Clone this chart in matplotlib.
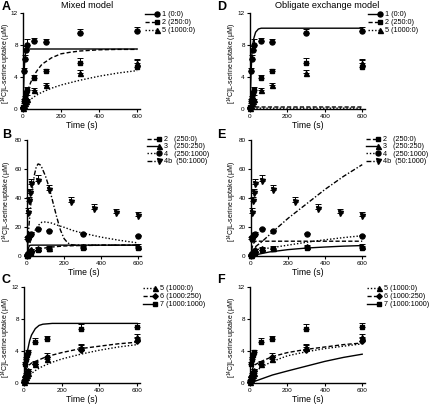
import numpy as np
import matplotlib
matplotlib.use("Agg")
import matplotlib.pyplot as plt
from matplotlib.legend_handler import HandlerLine2D
from matplotlib.lines import Line2D

plt.rcParams["font.family"] = ["Liberation Sans", "DejaVu Sans"]
plt.rcParams["mathtext.fontset"] = "custom"
plt.rcParams["mathtext.rm"] = "Liberation Sans"
plt.rcParams["mathtext.default"] = "regular"

# ---- measured data (uptake, uM) ----
t_main = [0, 5, 10, 15, 20, 60, 120, 300, 600]
s1 = [0.1, 4.7, 6.2, 7.4, 8.0, 8.5, 8.4, 9.5, 9.8]
s1_err = [0.1, 0.4, 0.5, 0.5, 0.7, 0.4, 0.4, 0.5, 0.5]
s2 = [0.2, 1.0, 1.4, 2.0, 2.4, 3.9, 4.7, 5.8, 5.3]
s2_err = [0.1, 0.2, 0.2, 0.3, 0.4, 0.3, 0.3, 0.6, 0.9]
s5 = [0.1, 0.5, 0.8, 1.0, 1.3, 2.4, 3.0, 4.5, 5.8]
s5_err = [0.05, 0.2, 0.2, 0.3, 0.4, 0.2, 0.2, 0.4, 0.3]
s6 = [0.1, 0.7, 1.0, 1.2, 1.5, 2.4, 3.3, 4.1, 5.2]
s6_err = [0.05, 0.2, 0.3, 0.3, 0.3, 0.3, 0.4, 0.6, 0.4]
s7 = [0.3, 2.4, 3.0, 3.5, 3.9, 5.1, 5.5, 6.8, 7.0]
s7_err = [0.1, 0.2, 0.2, 0.3, 0.2, 0.5, 0.4, 0.6, 0.5]
s3 = [0.5, 2.0, 3.0, 3.8, 4.5, 5.2, 5.8, 7.0, 7.2]
s3_err = [0.2, 0.5, 0.5, 0.6, 0.6, 0.8, 0.8, 0.8, 0.8]
s4 = [1.0, 12.0, 14.0, 14.8, 15.5, 18.5, 17.3, 15.0, 13.5]
s4_err = [0.3, 0.8, 0.8, 0.8, 0.8, 1.0, 0.8, 0.6, 0.8]
t_4b = [0, 5, 10, 15, 20, 60, 120, 240, 360, 480, 600]
s4b = [12.0, 30.0, 38.0, 43.5, 50.0, 52.0, 45.5, 37.5, 32.5, 29.5, 27.3]
s4b_err = [1.0, 3.0, 3.0, 3.0, 3.0, 4.0, 3.5, 3.5, 3.5, 3.0, 3.0]

# ---- model curves ----
# mixed model
tA1 = [0, 2, 5, 8, 10, 13, 15, 20, 30, 600]
A1 = [0, 1.8, 4.0, 5.6, 6.3, 7.0, 7.2, 7.45, 7.5, 7.5]
tA2 = [0, 10, 20, 40, 60, 80, 100, 150, 200, 250, 300, 400, 500, 600]
A2 = [0, 1.1, 2.0, 3.3, 4.3, 5.0, 5.6, 6.4, 6.9, 7.1, 7.25, 7.4, 7.45, 7.45]
tA5 = [0, 10, 20, 40, 60, 80, 100, 150, 200, 300, 400, 500, 600]
A5 = [0, 0.35, 0.7, 1.2, 1.55, 1.85, 2.1, 2.6, 3.0, 3.6, 4.1, 4.5, 4.8]
tB4 = [0, 10, 20, 40, 60, 80, 100, 130, 170, 200, 250, 300, 400, 500, 600]
B4 = [0, 6, 11, 17, 21, 23.3, 23.5, 22.8, 21, 19.8, 17.5, 15.8, 13, 10.8, 9.0]
tB4b = [0, 10, 20, 30, 40, 50, 60, 70, 80, 100, 120, 140, 160, 180, 200, 220, 240, 260, 600]
B4b = [0, 20, 35, 47, 56, 61.5, 63.5, 63, 61, 55, 47, 37, 27, 18, 12, 9, 7.8, 7.5, 7.5]
tC6 = [0, 5, 10, 20, 40, 60, 120, 200, 300, 400, 500, 600]
C6 = [0, 1.2, 1.7, 2.1, 2.5, 2.7, 3.3, 3.8, 4.3, 4.6, 4.9, 5.1]
tC7 = [0, 5, 10, 20, 30, 40, 60, 80, 100, 150, 600]
C7 = [0, 1.3, 2.5, 4.2, 5.3, 6.0, 6.8, 7.2, 7.35, 7.45, 7.45]
# obligate exchange model
tD1 = [0, 2, 5, 10, 15, 20, 30, 45, 60, 600]
D1 = [0, 1.8, 4.0, 6.8, 8.1, 8.8, 9.6, 10.0, 10.1, 10.1]
tD2 = [0, 5, 600]
D2 = [0, 0.25, 0.25]
tD5 = [0, 5, 600]
D5 = [0, 0.1, 0.1]
tE2 = [0, 5, 10, 20, 30, 600]
E2 = [0, 5, 8, 9.8, 10.2, 10.2]
tE3 = [0, 50, 100, 200, 300, 400, 500, 600]
E3 = [0, 1.5, 2.8, 4.4, 5.5, 6.2, 6.8, 7.2]
tE4 = [0, 10, 25, 60, 100, 200, 300, 400, 500, 600]
E4 = [0, 3, 4.5, 5.0, 5.5, 7.5, 9.5, 11.2, 12.7, 14.0]
tE4b = [0, 20, 60, 120, 200, 300, 400, 500, 600]
E4b = [0, 6, 10, 17, 26, 36, 46, 55, 63]
tF5 = [0, 10, 20, 40, 60, 120, 200, 300, 400, 500, 600]
F5 = [0, 0.6, 1.0, 1.6, 2.0, 2.7, 3.4, 3.9, 4.3, 4.6, 4.9]
tF6 = [0, 5, 10, 20, 60, 120, 200, 300, 400, 500, 600]
F6 = [0, 1.0, 1.5, 2.2, 2.7, 3.3, 3.8, 4.2, 4.5, 4.8, 5.0]
tF7 = [0, 60, 120, 200, 300, 400, 500, 600]
F7 = [0, 0.5, 1.0, 1.5, 2.1, 2.7, 3.2, 3.6]

SOLID = "-"
DASH = (0, (3, 1.6))
DOT = (0, (1, 1.4))
DASHDOT = (0, (3.5, 1.4, 1, 1.4))

YLAB = r"[$^{14}$C]L-serine uptake (μM)"


class EndMarker(HandlerLine2D):
    # Prism style legend: line first, marker at the right end
    def create_artists(self, legend, orig_handle, xdescent, ydescent,
                       width, height, fontsize, trans):
        arts = super().create_artists(legend, orig_handle, xdescent, ydescent,
                                      width, height, fontsize, trans)
        for a in arts:
            if a.get_marker() not in (None, "None", ""):
                a.set_markevery([len(a.get_xdata()) - 1])
        return arts


fig = plt.figure(figsize=(4.31, 4.05), dpi=100)
W, H = 431.0, 405.0


def make_ax(left, top, right, bottom, ymax, yticks, ylab_x):
    ax = fig.add_axes([left / W, 1 - bottom / H, (right - left) / W, (bottom - top) / H])
    ax.set_xlim(0, 615)
    ax.set_ylim(0, ymax)
    ax.set_xticks([0, 200, 400, 600])
    ax.set_yticks(yticks)
    for s in ["top", "right"]:
        ax.spines[s].set_visible(False)
    for s in ["left", "bottom"]:
        ax.spines[s].set_linewidth(1.0)
    ax.tick_params(labelsize=4.6, length=2.2, width=0.8, pad=1.5)
    ax.set_xlabel("Time (s)", fontsize=6.2, labelpad=1)
    ax.set_ylabel(YLAB, fontsize=5.0)
    # label coordinate = right edge of the rotated label
    ax.yaxis.set_label_coords((ylab_x - left) / (right - left), 0.47)
    return ax


def data(ax, t, y, e, marker, ms=3.6):
    ax.errorbar(t, y, yerr=[np.zeros(len(e)), e], fmt=marker, color="black",
                ms=ms, elinewidth=0.7, capsize=2.2, capthick=0.7, lw=0, clip_on=False, zorder=3)


def curve(ax, t, y, ls):
    ax.plot(t, y, color="black", lw=1.0, linestyle=ls, zorder=2)


def legend(ax, items, x, y, spacing=0.15):
    handles = [Line2D([0], [0], color="black", lw=1.0, linestyle=ls, marker=m, ms=ms)
               for ls, m, ms, _ in items]
    labels = [lab for _, _, _, lab in items]
    ax.legend(handles, labels, loc="upper left", bbox_to_anchor=(x / W, 1 - y / H),
              bbox_transform=fig.transFigure, frameon=False, fontsize=5.2,
              handlelength=1.7, handletextpad=0.6, labelspacing=spacing, borderpad=0,
              borderaxespad=0, numpoints=1,
              handler_map={Line2D: EndMarker()})


# ---- A ----
axA = make_ax(23, 13, 140, 109, 12, [0, 4, 8, 12], 13.5)
data(axA, t_main, s1, s1_err, "o")
data(axA, t_main, s2, s2_err, "s", 3.2)
data(axA, t_main, s5, s5_err, "^", 3.6)
curve(axA, tA1, A1, SOLID)
curve(axA, tA2, A2, DASH)
curve(axA, tA5, A5, DOT)
legend(axA, [(SOLID, "o", 3.6, "1 (0:0)"), (DASH, "s", 3.2, "2 (250:0)"),
             (DOT, "^", 3.6, "5 (1000:0)")], 145, 11)

# ---- B ----
axB = make_ax(27, 140, 141, 256, 80, [0, 20, 40, 60, 80], 13.5)
data(axB, t_main, s2, s2_err, "s", 3.2)
data(axB, t_main, s3, s3_err, "^", 3.6)
data(axB, t_main, s4, s4_err, "o")
data(axB, t_4b, s4b, s4b_err, "v", 3.6)
curve(axB, tA2, A2, DASH)
curve(axB, tA1, A1, SOLID)
curve(axB, tB4, B4, DOT)
curve(axB, tB4b, B4b, DASHDOT)
legend(axB, [(DASH, "s", 3.2, "2   (250:0)"), (SOLID, "^", 3.6, "3   (250:250)"),
             (DOT, "o", 3.6, "4   (250:1000)"), (DASHDOT, "v", 3.6, "4b  (50:1000)")],
       147, 136, spacing=0.05)

# ---- C ----
axC = make_ax(24, 287, 140, 383, 12, [0, 4, 8, 12], 13.5)
data(axC, t_main, s5, s5_err, "^", 3.6)
data(axC, t_main, s6, s6_err, "D", 2.8)
data(axC, t_main, s7, s7_err, "s", 3.2)
curve(axC, tA5, A5, DOT)
curve(axC, tC6, C6, DASH)
curve(axC, tC7, C7, SOLID)
legend(axC, [(DOT, "^", 3.6, "5 (1000:0)"), (DASH, "D", 2.8, "6 (1000:250)"),
             (SOLID, "s", 3.2, "7 (1000:1000)")], 143, 285)

# ---- D ----
axD = make_ax(250, 13, 365, 109, 12, [0, 4, 8, 12], 239)
data(axD, t_main, s1, s1_err, "o")
data(axD, t_main, s2, s2_err, "s", 3.2)
data(axD, t_main, s5, s5_err, "^", 3.6)
curve(axD, tD1, D1, SOLID)
curve(axD, tD2, D2, DASH)
curve(axD, tD5, D5, DOT)
legend(axD, [(SOLID, "o", 3.6, "1 (0:0)"), (DASH, "s", 3.2, "2 (250:0)"),
             (DOT, "^", 3.6, "5 (1000:0)")], 368, 11)

# ---- E ----
axE = make_ax(251, 140, 365, 256, 80, [0, 20, 40, 60, 80], 239)
data(axE, t_main, s2, s2_err, "s", 3.2)
data(axE, t_main, s3, s3_err, "^", 3.6)
data(axE, t_main, s4, s4_err, "o")
data(axE, t_4b, s4b, s4b_err, "v", 3.6)
curve(axE, tE2, E2, DASH)
curve(axE, tE3, E3, SOLID)
curve(axE, tE4, E4, DOT)
curve(axE, tE4b, E4b, DASHDOT)
legend(axE, [(DASH, "s", 3.2, "2   (250:0)"), (SOLID, "^", 3.6, "3   (250:250)"),
             (DOT, "o", 3.6, "4   (250:1000)"), (DASHDOT, "v", 3.6, "4b  (50:1000)")],
       366, 136, spacing=0.05)

# ---- F ----
axF = make_ax(250, 287, 365, 383, 12, [0, 4, 8, 12], 239)
data(axF, t_main, s5, s5_err, "^", 3.6)
data(axF, t_main, s6, s6_err, "D", 2.8)
data(axF, t_main, s7, s7_err, "s", 3.2)
curve(axF, tF5, F5, DOT)
curve(axF, tF6, F6, DASH)
curve(axF, tF7, F7, SOLID)
legend(axF, [(DOT, "^", 3.6, "5 (1000:0)"), (DASH, "D", 2.8, "6 (1000:250)"),
             (SOLID, "s", 3.2, "7 (1000:1000)")], 367, 285)

# titles and panel letters
fig.text(87 / W, 1 - 6 / H, "Mixed model", fontsize=6.6, ha="center", va="center")
fig.text(327 / W, 1 - 6 / H, "Obligate exchange model", fontsize=6.6, ha="center", va="center")
for lab, x, y in [("A", 2, 7), ("B", 2, 135), ("C", 2, 280), ("D", 217, 7),
                  ("E", 217, 135), ("F", 217, 280)]:
    fig.text(x / W, 1 - y / H, lab, fontsize=9, fontweight="bold", ha="left", va="center")

fig.savefig("out.png", dpi=100)
